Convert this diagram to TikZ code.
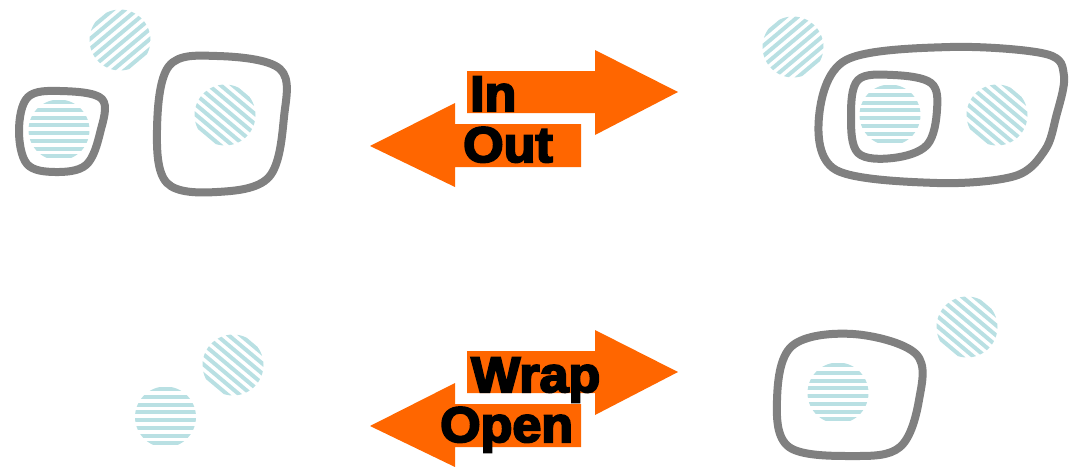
\documentclass[tikz,border=0pt]{standalone}
\usepackage{fontspec}
\newfontfamily\heavy{Liberation Sans Bold}[FakeBold=4]
\definecolor{blobgray}{HTML}{808080}
\definecolor{hatchblue}{HTML}{B9E0E3}
\definecolor{arroworange}{HTML}{FF6600}
\tikzset{
  blob/.style={draw=blobgray, line width=8pt, line join=round},
  stripe/.style={draw=hatchblue, line width=4pt},
  arrowshape/.style={fill=arroworange, draw=none},
  label/.style={font=\heavy\fontsize{50}{50}\selectfont, text=black, inner sep=0pt, anchor=base west, xscale=1.04, transform shape},
}
\newcommand\hatchcircle[4]{% name, cx, cy, angle
  \coordinate (#1) at (#2,#3);
  \begin{scope}
    \clip (#1) circle (30.5pt);
    \begin{scope}[shift={(#1)}, rotate=#4]
      \foreach \k in {-35.4,-27.7,...,36} {
        \draw[stripe] (-40,\k) -- (40,\k);
      }
    \end{scope}
  \end{scope}
}
\begin{document}
\begin{tikzpicture}[x=1pt,y=-1pt]
\useasboundingbox (0,0) rectangle (1071,466);

% ---------- top left ----------
\hatchcircle{c1}{120}{40}{40}
\hatchcircle{c2}{59}{130}{0}
\hatchcircle{c3}{225}{115}{-40}
\draw[blob] plot[smooth cycle, tension=0.6] coordinates {(60,91) (28,97) (19,130) (27,164) (55,172) (86,165) (100,133) (102,99)};
\draw[blob] plot[smooth cycle, tension=0.6] coordinates {(217,56) (169,66) (157,130) (167,183) (217,192) (269,177) (284,117) (280,69)};

% ---------- top arrows ----------
\fill[arrowshape] (467,71) -- (595,71) -- (595,50) -- (678,92) -- (595,135) -- (595,113) -- (467,113) -- cycle;
\fill[arrowshape] (581,124) -- (455,124) -- (455,103) -- (370,146) -- (455,187) -- (455,167) -- (581,167) -- cycle;
\node[label] (tin) at (470,111) {In};
\node[label] (tout) at (463,162) {Out};

% ---------- top right ----------
\hatchcircle{c4}{793}{47}{40}
\hatchcircle{c5}{890}{115}{0}
\hatchcircle{c6}{997}{115}{-40}
\draw[blob] plot[smooth cycle, tension=0.55] coordinates {(950,47) (846,60) (819,117) (836,170) (937,183) (1015,176) (1045,150) (1056,117) (1064,76) (1046,54)};
\draw[blob] plot[smooth cycle, tension=0.6] coordinates {(893,75) (858,80) (851,117) (858,153) (893,158) (927,145) (937,110) (931,83)};

% ---------- bottom left ----------
\hatchcircle{c7}{233}{365}{-40}
\hatchcircle{c8}{165.5}{417}{0}

% ---------- bottom arrows ----------
\fill[arrowshape] (467,351) -- (595,351) -- (595,330) -- (678,372) -- (595,415) -- (595,393) -- (467,393) -- cycle;
\fill[arrowshape] (581,404) -- (455,404) -- (455,383) -- (370,426) -- (455,467) -- (455,447) -- (581,447) -- cycle;
\node[label] (twrap) at (471,392) {Wrap};
\node[label] (topen) at (440,442) {Open};

% ---------- bottom right ----------
\hatchcircle{c9}{838}{393}{0}
\hatchcircle{c10}{967}{327}{-40}
\draw[blob] plot[smooth cycle, tension=0.6] coordinates {(853,334) (792,346) (777,400) (789,447) (853,456) (900,447) (919,400) (916,354)};
\end{tikzpicture}
\end{document}
